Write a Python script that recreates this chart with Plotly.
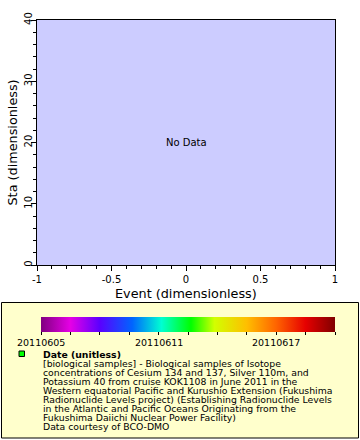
import plotly.graph_objects as go

W, H = 360, 440

# ---- data ----
event_vals = []          # no data points
sta_vals = []
x_range = [-1, 1]
y_range = [0, 40]
x_ticks = [-1, -0.5, 0, 0.5, 1]
y_ticks = [0, 10, 20, 30, 40]
date_min, date_max = 20110605, 20110620
cb_tickvals = [20110605, 20110606.5, 20110608, 20110609.5, 20110611, 20110612.5,
               20110614, 20110615.5, 20110617, 20110618.5, 20110620]
cb_labels = [20110605, 20110611, 20110617]
legend_title = "Date (unitless)"
legend_lines = [
    "[biological samples] - Biological samples of Isotope",
    "concentrations of Cesium 134 and 137, Silver 110m, and",
    "Potassium 40 from cruise KOK1108 in June 2011 in the",
    "Western equatorial Pacific and Kurushio Extension (Fukushima",
    "Radionuclide Levels project) (Establishing Radionuclide Levels",
    "in the Atlantic and Pacific Oceans Originating from the",
    "Fukushima Daiichi Nuclear Power Facility)",
    "Data courtesy of BCO-DMO",
]
colorscale = [
    [0.0, "rgb(128,0,128)"], [0.1, "rgb(230,0,230)"], [0.2, "rgb(90,0,255)"],
    [0.31, "rgb(0,100,255)"], [0.41, "rgb(0,255,210)"], [0.51, "rgb(0,255,0)"],
    [0.59, "rgb(210,255,0)"], [0.70, "rgb(255,190,0)"], [0.80, "rgb(255,100,0)"],
    [0.90, "rgb(230,0,0)"], [1.0, "rgb(128,0,0)"],
]

FONT = "DejaVu Sans"

def px(x):
    return x / W

def py(y):
    return (H - y) / H

CB_X0, CB_X1 = 41, 335

fig = go.Figure()
fig.add_trace(go.Scatter(
    x=event_vals if event_vals else [None], y=sta_vals if sta_vals else [None],
    mode="markers", showlegend=False, hoverinfo="skip",
    marker=dict(color=[date_min], cmin=date_min, cmax=date_max, colorscale=colorscale,
                showscale=True,
                colorbar=dict(orientation="h", lenmode="pixels", len=CB_X1 - CB_X0, thickness=15,
                              x=px((CB_X0 + CB_X1) / 2), xanchor="center", y=py(317),
                              yanchor="top", xpad=0, ypad=0, outlinewidth=0,
                              tickmode="array", tickvals=cb_tickvals,
                              ticktext=[""] * len(cb_tickvals),
                              ticks="outside", ticklen=3, tickcolor="black",
                              tickfont=dict(family=FONT, size=10, color="black"))),
))

axis_common = dict(showgrid=False, zeroline=False, showline=True, linecolor="black",
                   linewidth=1, mirror=True, ticks="outside", ticklen=5, tickcolor="black",
                   tickfont=dict(family=FONT, size=10, color="black"))
fig.update_layout(
    width=W, height=H, margin=dict(l=0, r=0, t=0, b=0, autoexpand=False),
    paper_bgcolor="white", plot_bgcolor="#ccccff",
    xaxis=dict(domain=[px(37), px(335)], range=x_range, tickvals=x_ticks,
               ticktext=["-1", "-0.5", "0", "0.5", "1"],
               minor=dict(dtick=0.1, ticks="outside", ticklen=3, tickcolor="black"),
               **axis_common),
    yaxis=dict(domain=[py(265), py(20)], range=y_range, tickvals=y_ticks, tickangle=-90,
               ticklabelstandoff=-5,
               minor=dict(dtick=2, ticks="outside", ticklen=3, tickcolor="black"),
               **axis_common),
    showlegend=False,
)

# legend box
fig.add_shape(type="rect", xref="paper", yref="paper", x0=px(1.5), x1=px(358.5),
              y0=py(302.5), y1=py(438), fillcolor="#ffffcc", line=dict(color="black", width=1),
              layer="below")
fig.add_shape(type="rect", xref="paper", yref="paper", x0=px(19), x1=px(24.5),
              y0=py(351), y1=py(356.5), fillcolor="#00ff00", line=dict(color="black", width=1))

ann = []
ann.append(dict(text="No Data", x=0, y=20, xref="x", yref="y", showarrow=False,
                font=dict(family=FONT, size=10, color="black")))
ann.append(dict(text="Event (dimensionless)", x=px(186), y=py(293), xref="paper", yref="paper",
                xanchor="center", yanchor="middle",
                showarrow=False, font=dict(family=FONT, size=12.8, color="black")))
ann.append(dict(text="Sta (dimensionless)", x=px(12), y=py(142.5), xref="paper", yref="paper",
                xanchor="center", yanchor="middle",
                showarrow=False, textangle=-90, font=dict(family=FONT, size=12.8, color="black")))
for v in cb_labels:
    xpix = CB_X0 + (v - date_min) / (date_max - date_min) * (CB_X1 - CB_X0)
    ann.append(dict(text=str(v), x=px(xpix), y=py(342), xref="paper", yref="paper",
                    xanchor="center", yanchor="middle", showarrow=False,
                    font=dict(family=FONT, size=9.5, color="black")))
ann.append(dict(text="<b>" + legend_title + "</b>", x=px(41), y=py(354), xref="paper",
                yref="paper", xanchor="left", yanchor="middle", showarrow=False,
                font=dict(family=FONT, size=9.3, color="black")))
for i, line in enumerate(legend_lines):
    ann.append(dict(text=line, x=px(41), y=py(363.2 + 9.1 * i), xref="paper", yref="paper",
                    xanchor="left", yanchor="middle", showarrow=False,
                    font=dict(family=FONT, size=9.3, color="black")))
fig.update_layout(annotations=ann)

fig.write_html("out.html", config={"displayModeBar": False},
               post_script="document.body.style.margin='0px';")
